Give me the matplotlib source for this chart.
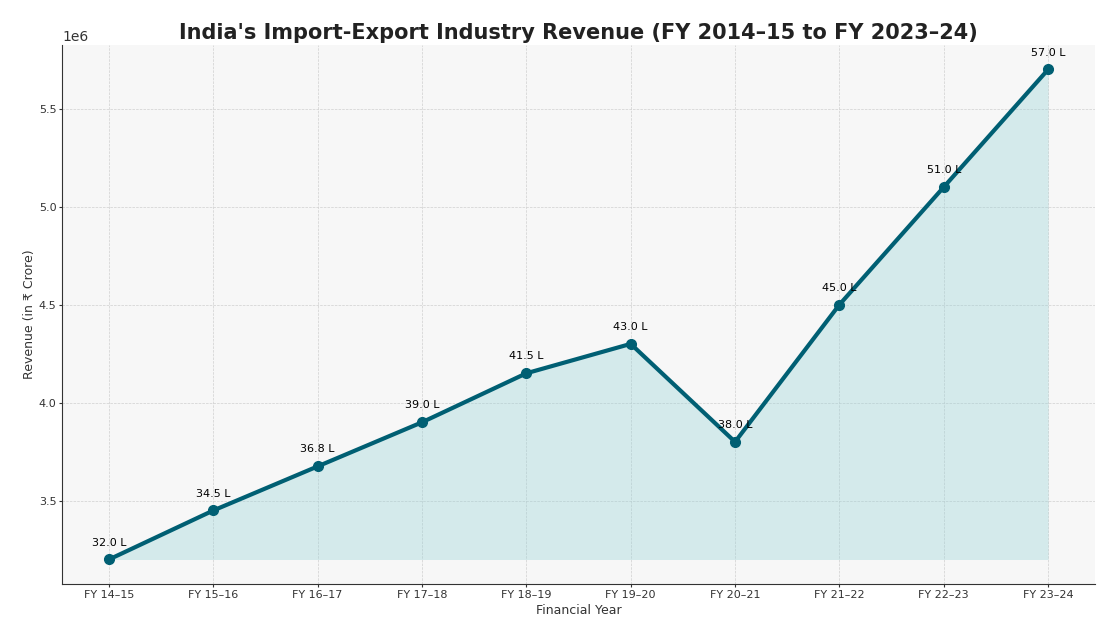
import matplotlib.pyplot as plt
import numpy as np

years = ["FY 14–15", "FY 15–16", "FY 16–17", "FY 17–18", "FY 18–19",
         "FY 19–20", "FY 20–21", "FY 21–22", "FY 22–23", "FY 23–24"]
revenue = [3.2e6, 3.45e6, 3.675e6, 3.9e6, 4.15e6, 4.3e6, 3.8e6, 4.5e6, 5.1e6, 5.7e6]
labels = ["32.0 L", "34.5 L", "36.8 L", "39.0 L", "41.5 L",
          "43.0 L", "38.0 L", "45.0 L", "51.0 L", "57.0 L"]

line_color = "#005f73"

fig, ax = plt.subplots(figsize=(11.19, 6.39), dpi=100)
fig.subplots_adjust(left=0.0554, right=0.9786, top=0.9296, bottom=0.0861)

x = np.arange(len(years))
ax.set_facecolor("#f7f7f7")
ax.fill_between(x, revenue, min(revenue), color="#94d2d6", alpha=0.35, lw=0)
ax.plot(x, revenue, color=line_color, lw=3, marker="o", markersize=7)

for xi, yi, lab in zip(x, revenue, labels):
    ax.annotate(lab, (xi, yi), textcoords="offset points", xytext=(0, 10),
                ha="center", fontsize=8, color="black")

ax.set_xticks(x)
ax.set_xticklabels(years)
ax.tick_params(labelsize=8, colors="#333333", length=2, pad=2)
ax.grid(True, linestyle="--", color="#d0d0d0", linewidth=0.5)
ax.set_axisbelow(True)
for s in ["top", "right"]:
    ax.spines[s].set_visible(False)
for s in ["left", "bottom"]:
    ax.spines[s].set_color("#333333")

ax.set_title("India's Import-Export Industry Revenue (FY 2014–15 to FY 2023–24)",
             fontsize=15, fontweight="bold", color="#222222", pad=4.5)
ax.set_xlabel("Financial Year", fontsize=9, color="#333333", labelpad=3)
ax.set_ylabel("Revenue (in ₹ Crore)", fontsize=9, color="#333333", labelpad=2)

fig.savefig("out.png")
